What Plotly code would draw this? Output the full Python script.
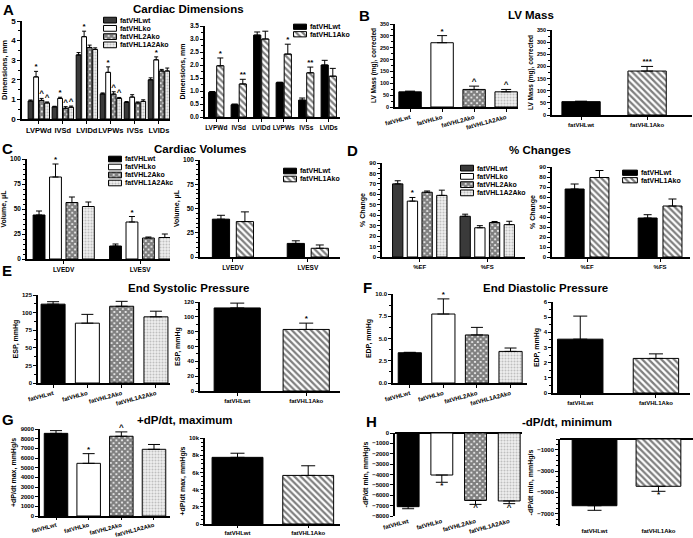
import plotly.graph_objects as go

W, H = 693, 538

# ---------------- data ----------------
grp4 = ["fatVHLwt", "fatVHLko", "fatVHL2Ako", "fatVHL1A2Ako"]
grp2 = ["fatVHLwt", "fatVHL1Ako"]
leg4_c = ["fatVHLwt", "fatVHLko", "fatVHL2Ako", "fatVHL1A2Akc"]

dim_cats = ["LVPWd", "IVSd", "LVIDd", "LVPWs", "IVSs", "LVIDs"]
dimA_wt = [0.92, 0.62, 3.27, 1.28, 0.85, 2.00]
dimA_wt_err = [0.05, 0.03, 0.12, 0.05, 0.04, 0.10]
dimA_ko = [2.15, 1.05, 4.20, 2.38, 1.12, 3.02]
dimA_ko_err = [0.28, 0.06, 0.28, 0.28, 0.12, 0.15]
dimA_2a = [0.95, 0.55, 3.65, 1.27, 0.82, 2.45]
dimA_2a_err = [0.10, 0.08, 0.12, 0.12, 0.05, 0.08]
dimA_1a2a = [0.82, 0.60, 3.55, 1.05, 0.90, 2.45]
dimA_1a2a_err = [0.05, 0.06, 0.08, 0.05, 0.08, 0.15]
dimA_ko_sig = ["*", "*", "*", "*", "", "*"]
dimA_2a_sig = ["^", "^", "", "^", "", ""]
dimA_1a2a_sig = ["^", "^", "", "^", "", ""]

dimB_wt = [0.95, 0.47, 3.15, 1.32, 0.65, 2.00]
dimB_wt_err = [0.03, 0.03, 0.12, 0.02, 0.08, 0.18]
dimB_1a = [1.97, 1.27, 3.00, 2.42, 1.70, 1.57]
dimB_1a_err = [0.30, 0.18, 0.30, 0.38, 0.22, 0.30]
dimB_1a_sig = ["*", "**", "", "*", "**", ""]

mass4 = [64, 271, 74, 64]
mass4_err = [3, 30, 14, 10]
mass4_sig = ["", "*", "^", "^"]
mass2 = [55, 181]
mass2_err = [2, 19]
mass2_sig = ["", "***"]

vol_cats = ["LVEDV", "LVESV"]
vol_wt = [44, 13]
vol_wt_err = [4, 2]
vol_ko = [82, 37]
vol_ko_err = [13, 5.5]
vol_ko_sig = ["*", "*"]
vol_2a = [56.5, 21]
vol_2a_err = [5.5, 1]
vol_1a2a = [52.5, 21.5]
vol_1a2a_err = [4.5, 3.5]
vol2_wt = [39, 14]
vol2_wt_err = [4, 2.7]
vol2_1a = [36.5, 9]
vol2_1a_err = [10, 3.4]

pct_cats = ["%EF", "%FS"]
pct_wt = [70, 39]
pct_wt_err = [3, 2]
pct_ko = [53.5, 28]
pct_ko_err = [3.5, 2]
pct_ko_sig = ["*", ""]
pct_2a = [62, 33]
pct_2a_err = [1.2, 1]
pct_1a2a = [59, 31]
pct_1a2a_err = [5, 3.2]
pct2_wt = [68, 39]
pct2_wt_err = [5, 3.3]
pct2_1a = [79.5, 51]
pct2_1a_err = [7, 7]

esp4 = [112, 85, 109, 94]
esp4_err = [3.5, 12.5, 7, 8]
esp2 = [112, 83]
esp2_err = [6.5, 8.5]
esp2_sig = ["", "*"]

edp4 = [3.4, 7.75, 5.4, 3.55]
edp4_err = [0.05, 1.7, 0.85, 0.38]
edp4_sig = ["", "*", "", ""]
edp2 = [3.55, 2.28]
edp2_err = [1.52, 0.3]

dpmax4 = [8550, 5450, 8250, 6900]
dpmax4_err = [280, 1000, 450, 500]
dpmax4_sig = ["", "*", "^", ""]
dpmax2 = [7750, 5650]
dpmax2_err = [480, 1120]

dpmin4 = [-7100, -4050, -6500, -6550]
dpmin4_err = [200, 700, 380, 260]
dpmin4_sig = ["", "*", "^", "^"]
dpmin2 = [-6250, -4430]
dpmin2_err = [430, 470]
dpmin2_sig = ["", "*"]

style4 = ["wt", "ko", "2a", "1a2a"]
style4g = ["wtg", "ko", "2a", "1a2a"]
style2 = ["wt", "1a"]

# ---------------- styling ----------------
FONT = "Liberation Sans, Arial, sans-serif"

STY = {
    "wt": dict(color="black"),
    "wtg": dict(color="#3a3a3a"),
    "ko": dict(color="white"),
    "2a": dict(color="white", pattern=dict(shape="x", fgcolor="black", bgcolor="white",
                                           size=4, solidity=0.8)),
    "1a2a": dict(color="#e6e6e6", pattern=dict(shape=".", fgcolor="#8f8f8f", bgcolor="#eeeeee",
                                               size=3, solidity=0.35)),
    "1a": dict(color="white", pattern=dict(shape="\\", fgcolor="black", bgcolor="white",
                                           size=4.5, solidity=0.5)),
}

fig = go.Figure()
lay = {}
cnt = [0]


def axes_ids():
    cnt[0] += 1
    s = "" if cnt[0] == 1 else str(cnt[0])
    return "x" + s, "y" + s, "xaxis" + s, "yaxis" + s


def xdom(a, b):
    return [a / W, min(b / W, 1.0)]


def ydom(top, bot):
    return [1 - bot / H, 1 - top / H]


def marker(key):
    st = STY[key]
    m = dict(color=st["color"], line=dict(color="black", width=1))
    if "pattern" in st:
        m["pattern"] = st["pattern"]
    return m


def bars(xa, ya, xs, vals, errs, key, width, cap, sig=None, sigsize=8):
    up = [0 if v < 0 else e for v, e in zip(vals, errs)]
    dn = [e if v < 0 else 0 for v, e in zip(vals, errs)]
    fig.add_trace(go.Bar(x=xs, y=vals, width=width, marker=marker(key), xaxis=xa, yaxis=ya,
                         showlegend=False, hoverinfo="skip",
                         error_y=dict(type="data", symmetric=False, array=up, arrayminus=dn,
                                      color="black", thickness=1, width=cap)))
    if sig and any(sig):
        ys = [v + e if v >= 0 else v - e for v, e in zip(vals, errs)]
        pos = ["top center" if v >= 0 else "bottom center" for v in vals]
        fig.add_trace(go.Scatter(x=xs, y=ys, mode="text", text=sig, textposition=pos,
                                 textfont=dict(size=sigsize, color="black", family=FONT, weight="bold"),
                                 xaxis=xa, yaxis=ya, showlegend=False, cliponaxis=False,
                                 hoverinfo="skip"))


def axes(xk, yk, xa, ya, xpx, ypx, xr, cats, yr, ytitle, dtick=None, ytickvals=None, yfmt=None,
         minor=None, tickangle=0, catsize=7, ticksize=6.5, titlesize=7, neg=False, xticklen=3):
    lay[xk] = dict(domain=xdom(*xpx), anchor=ya, range=xr, tickmode="array",
                   tickvals=list(range(len(cats))), ticktext=cats, automargin=False,
                   showline=not neg, linecolor="black", linewidth=1.5,
                   ticks="" if neg else "outside", ticklen=xticklen, tickcolor="black",
                   tickwidth=1,
                   tickfont=dict(size=catsize, family=FONT, color="black", weight="bold"),
                   tickangle=tickangle, showgrid=False, zeroline=False, fixedrange=True)
    yd = dict(domain=ydom(*ypx), anchor=xa, range=yr, showline=True, linecolor="black",
              linewidth=1.5, ticks="outside", ticklen=3, tickwidth=1, tickcolor="black",
              tickfont=dict(size=ticksize, family=FONT, color="black", weight="bold"),
              showgrid=False, zeroline=neg, zerolinecolor="black", zerolinewidth=1.5,
              automargin=False,
              title=dict(text=ytitle, standoff=3,
                         font=dict(size=titlesize, family=FONT, color="black", weight="bold")),
              fixedrange=True)
    if ytickvals is not None:
        yd["tickmode"] = "array"
        yd["tickvals"] = ytickvals
    else:
        yd["dtick"] = dtick
        yd["tick0"] = 0
    if yfmt:
        yd["tickformat"] = yfmt
    if minor:
        yd["minor"] = dict(ticks="outside", ticklen=2, tickcolor="black", dtick=minor, tick0=0)
    lay[yk] = yd


def group_panel(xpx, ypx, xr, cats, series, styles, step, width, cap, yr, ytitle, **kw):
    xa, ya, xk, yk = axes_ids()
    ns = len(series)
    for j, (vals, errs, sig) in enumerate(series):
        xs = [i + (j - (ns - 1) / 2) * step for i in range(len(cats))]
        bars(xa, ya, xs, vals, errs, styles[j], width, cap, sig)
    axes(xk, yk, xa, ya, xpx, ypx, xr, cats, yr, ytitle, **kw)


def single_panel(xpx, ypx, xr, names, vals, errs, sig, styles, width, cap, yr, ytitle, **kw):
    xa, ya, xk, yk = axes_ids()
    for k in range(len(names)):
        bars(xa, ya, [k], [vals[k]], [errs[k]], styles[k], width, cap,
             [sig[k]] if sig else None)
    axes(xk, yk, xa, ya, xpx, ypx, xr, names, yr, ytitle, **kw)


def legend_box(xpx, ypx, names, styles, size=7):
    xa, ya, xk, yk = axes_ids()
    for k, nm in enumerate(names):
        fig.add_trace(go.Bar(x=[1], y=[k], orientation="h", width=0.7, marker=marker(styles[k]),
                             xaxis=xa, yaxis=ya, showlegend=False, hoverinfo="skip"))
    lay[xk] = dict(domain=xdom(*xpx), anchor=ya, range=[-0.04, 1.04], visible=False,
                   fixedrange=True, automargin=False)
    lay[yk] = dict(domain=ydom(*ypx), anchor=xa, range=[len(names) - 0.5, -0.5], side="right",
                   tickmode="array", tickvals=list(range(len(names))), ticktext=names,
                   showline=False, ticks="", showgrid=False, zeroline=False, automargin=False,
                   tickfont=dict(size=size, family=FONT, color="black", weight="bold"),
                   ticklabelstandoff=2, fixedrange=True)


# ---------------- panels ----------------
# A
group_panel((22, 170), (21, 119), [-0.7, 5.46], dim_cats,
            [(dimA_wt, dimA_wt_err, None), (dimA_ko, dimA_ko_err, dimA_ko_sig),
             (dimA_2a, dimA_2a_err, dimA_2a_sig), (dimA_1a2a, dimA_1a2a_err, dimA_1a2a_sig)],
            style4g, 0.23, 0.2, 2, [0, 5], "Dimensions, mm", dtick=1, minor=0.5,
            catsize=7.5, ticksize=8, titlesize=7.5)
legend_box((103, 117), (16, 49), grp4, style4g)
group_panel((205, 340), (26, 117), [-0.5, 5.5], dim_cats,
            [(dimB_wt, dimB_wt_err, None), (dimB_1a, dimB_1a_err, dimB_1a_sig)],
            style2, 0.36, 0.32, 3, [0, 3.5], "Dimensions, mm", dtick=0.5, yfmt=".1f",
            minor=0.25, catsize=6.5)
legend_box((293, 307), (23, 38), grp2, style2)

# B
single_panel((395, 518), (24, 107), [-0.47, 3.37], grp4, mass4, mass4_err, mass4_sig, style4,
             0.7, 5, [0, 350], "LV Mass (mg), corrected", dtick=50, minor=25, tickangle=-15,
             catsize=6, ticksize=5.5, titlesize=6.5)
single_panel((552, 692), (30, 115), [-0.44, 1.68], grp2, mass2, mass2_err, mass2_sig, style2,
             0.58, 6, [0, 350], "LV Mass (mg), corrected", dtick=50, minor=25,
             catsize=6, ticksize=5.5, titlesize=6.5)

# C
group_panel((27, 170), (159, 259), [-0.48, 1.39], vol_cats,
            [(vol_wt, vol_wt_err, None), (vol_ko, vol_ko_err, vol_ko_sig),
             (vol_2a, vol_2a_err, None), (vol_1a2a, vol_1a2a_err, None)],
            style4, 0.215, 0.155, 3, [0, 100], "Volume, μL", dtick=25, minor=5,
            catsize=6.5, ticksize=6.5)
legend_box((108, 122), (155, 187), leg4_c, style4)
group_panel((200, 340), (160, 257), [-0.44, 1.43], vol_cats,
            [(vol2_wt, vol2_wt_err, None), (vol2_1a, vol2_1a_err, None)],
            style2, 0.32, 0.23, 4, [0, 100], "Volume, μL", dtick=25, minor=5,
            catsize=6.5, ticksize=6.5)
legend_box((283, 297), (167, 183), grp2, style2)

# D
group_panel((382, 525), (163, 257), [-0.56, 1.56], pct_cats,
            [(pct_wt, pct_wt_err, None), (pct_ko, pct_ko_err, pct_ko_sig),
             (pct_2a, pct_2a_err, None), (pct_1a2a, pct_1a2a_err, None)],
            style4g, 0.218, 0.153, 3, [0, 90], "% Change", dtick=10, minor=5,
            catsize=6, ticksize=6)
legend_box((460, 474), (164, 197), grp4, style4g)
group_panel((552, 690), (167, 257), [-0.48, 1.41], pct_cats,
            [(pct2_wt, pct2_wt_err, None), (pct2_1a, pct2_1a_err, None)],
            style2, 0.34, 0.26, 4, [0, 90], "% Change", dtick=10, minor=5,
            catsize=6, ticksize=6)
legend_box((622, 638), (169, 184), grp2, style2)

# E
single_panel((38, 170), (295, 383), [-0.44, 3.41], grp4, esp4, esp4_err, None, style4,
             0.7, 6, [0, 125], "ESP, mmHg", dtick=25, minor=12.5, tickangle=-15,
             catsize=6, ticksize=6)
single_panel((200, 340), (302, 391), [-0.54, 1.49], grp2, esp2, esp2_err, esp2_sig, style2,
             0.67, 7, [0, 120], "ESP, mmHg", dtick=20, minor=10, catsize=6, ticksize=6)

# F
single_panel((393, 527), (294, 383), [-0.5, 3.49], grp4, edp4, edp4_err, edp4_sig, style4,
             0.69, 6, [0, 10], "EDP, mmHg", dtick=2.5, yfmt=".1f", minor=1.25, tickangle=-15,
             catsize=6, ticksize=6)
single_panel((553, 690), (302, 393), [-0.36, 1.45], grp2, edp2, edp2_err, None, style2,
             0.6, 7, [0, 6], "EDP, mmHg", dtick=1, minor=0.5, catsize=6, ticksize=6)

# G
single_panel((40, 170), (429, 516), [-0.49, 3.49], grp4, dpmax4, dpmax4_err, dpmax4_sig, style4,
             0.72, 6, [0, 9000], "+dP/dt max, mmHg/s", dtick=1000, tickangle=-15,
             catsize=5.8, ticksize=6, xticklen=2)
single_panel((205, 340), (438, 524), [-0.46, 1.45], grp2, dpmax2, dpmax2_err, None, style2,
             0.72, 7, [0, 10000], "+dP/dt max, mmHg/s", dtick=2000, minor=500,
             catsize=6, ticksize=6, xticklen=2)

# H
single_panel((395, 522), (433, 516), [-0.39, 3.38], grp4, dpmin4, dpmin4_err, dpmin4_sig, style4,
             0.65, 6, [-8000, 0], "-dP/dt min, mmHg/s", dtick=1000, tickangle=-15,
             catsize=6, ticksize=6, neg=True)
single_panel((560, 693), (439, 526), [-0.54, 1.54], grp2, dpmin2, dpmin2_err, dpmin2_sig, style2,
             0.7, 7, [-8150, 0], "-dP/dt min, mmHg/s", ytickvals=[-7000, -5000, -3000, -1000],
             minor=500, catsize=6, ticksize=6, neg=True)

# ---------------- titles ----------------
letters = [("A", 8, 9), ("B", 364, 15), ("C", 7, 148), ("D", 352, 150),
           ("E", 7, 270), ("F", 367, 287), ("G", 8, 419), ("H", 371, 421)]
titles = [("Cardiac Dimensions", 188, 9), ("LV Mass", 531, 15), ("Cardiac Volumes", 200, 149),
          ("% Changes", 540, 150), ("End Systolic Pressure", 188, 288),
          ("End Diastolic Pressure", 545, 288), ("+dP/dt, maximum", 185, 420),
          ("-dP/dt, minimum", 567, 422)]
ann = []
for t, x, y in letters:
    ann.append(dict(text=t, x=x / W, y=1 - y / H, xref="paper", yref="paper", showarrow=False,
                    xanchor="center", yanchor="middle",
                    font=dict(size=15, family=FONT, color="black", weight="bold")))
for t, x, y in titles:
    ann.append(dict(text=t, x=x / W, y=1 - y / H, xref="paper", yref="paper", showarrow=False,
                    xanchor="center", yanchor="middle",
                    font=dict(size=11.5, family=FONT, color="black", weight="bold")))

fig.update_layout(width=W, height=H, margin=dict(l=0, r=0, t=0, b=0, pad=0),
                  paper_bgcolor="white", plot_bgcolor="white", barmode="overlay",
                  showlegend=False, font=dict(family=FONT, color="black"),
                  annotations=ann, **lay)

fig.write_html("out.html", config={"displayModeBar": False},
               post_script="document.body.style.margin='0';document.body.style.overflow='hidden';")
